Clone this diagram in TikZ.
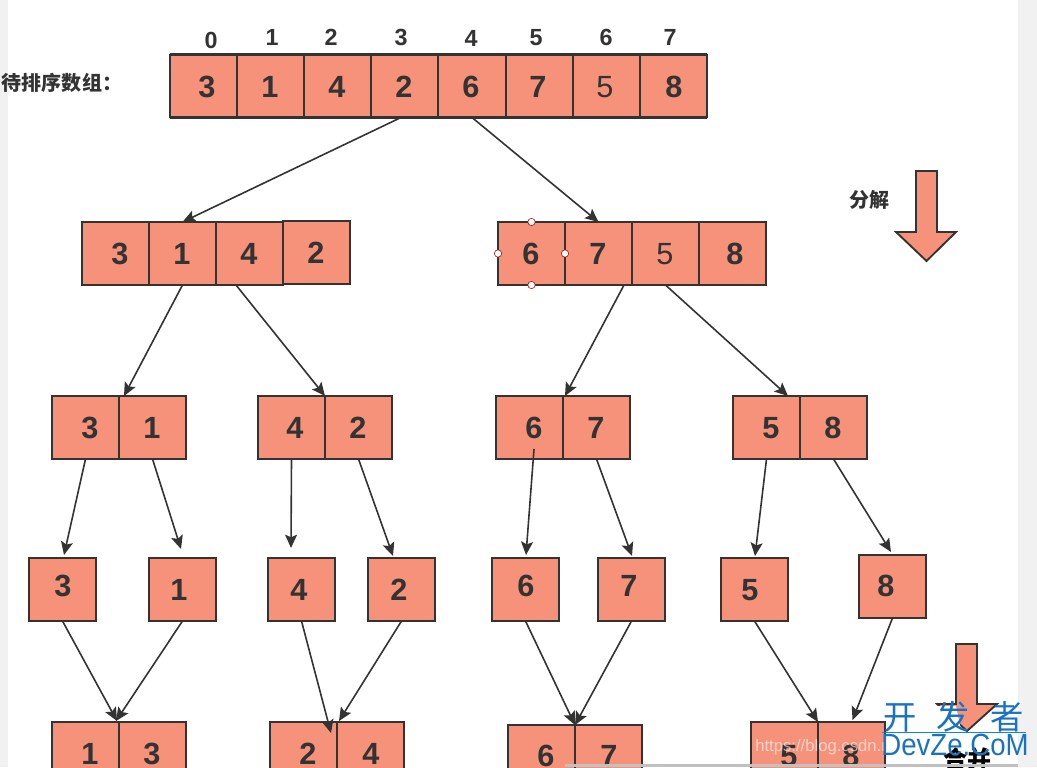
\documentclass[tikz,border=0pt]{standalone}
\usepackage{fontspec}
\setmainfont{Liberation Sans}
\newfontfamily\cjk{Noto Sans CJK SC}
\usepackage{tikz}
\usetikzlibrary{arrows.meta,calc}
\definecolor{cellfill}{HTML}{F6917A}
\definecolor{inkgray}{HTML}{333333}
\definecolor{sidegray}{HTML}{F1F1F1}
\definecolor{markblue}{HTML}{1A72C0}
\tikzset{
  cell/.style={draw=inkgray,fill=cellfill,line width=1.4pt,minimum width=50.25pt,minimum height=47.25pt,inner sep=0pt,outer sep=0pt},
  digit/.style={text=inkgray,font=\fontsize{23}{23}\selectfont\bfseries,inner sep=0pt},
  thindigit/.style={text=inkgray,font=\fontsize{23}{23}\selectfont,inner sep=0pt},
  index/.style={text=inkgray,font=\fontsize{17.5}{17.5}\selectfont\bfseries,inner sep=0pt},
  caption/.style={text=inkgray,font=\cjk\fontsize{15}{15}\selectfont\bfseries,inner sep=0pt},
  link/.style={draw=inkgray,line width=1.2pt,-{Stealth[length=10pt,width=9pt,inset=2pt]}},
  handle/.style={circle,draw=red!60!black,fill=white,line width=.4pt,minimum size=5.5pt,inner sep=0pt},
  bigarrow/.style={draw=inkgray,fill=cellfill,line width=1.4pt,line join=miter},
}
\begin{document}
\begin{tikzpicture}[x=0.75pt,y=0.75pt,yscale=-1,xscale=1]
    \useasboundingbox (0,0) rectangle (1037,767);
    \clip (0,0) rectangle (1037,767);

    % page strips
    \fill[sidegray] (0,0) rectangle (8,767);
    \fill[sidegray] (1018,0) rectangle (1037,767);

    % top row
    \node[cell] (a0) at (203.6,86) {};
    \node[cell] (a1) at (270.7,86) {};
    \node[cell] (a2) at (337.8,86) {};
    \node[cell] (a3) at (404.9,86) {};
    \node[cell] (a4) at (472,86) {};
    \node[cell] (a5) at (539.1,86) {};
    \node[cell] (a6) at (606.2,86) {};
    \node[cell] (a7) at (673.3,86) {};
    \draw[inkgray,line width=2.2pt] (a0.north west) -- (a7.north east);
    \draw[inkgray,line width=2.2pt] (a0.south west) -- (a7.south east);

    % second row
    \node[cell] (b0) at (115.5,253.5) {};
    \node[cell] (b1) at (182.5,253.5) {};
    \node[cell] (b2) at (249.5,253.5) {};
    \node[cell] (b3) at (316.5,252.5) {};
    \node[cell] (b4) at (531.5,253.5) {};
    \node[cell] (b5) at (598.5,253.5) {};
    \node[cell] (b6) at (665.5,253.5) {};
    \node[cell] (b7) at (732.5,253.5) {};

    % third row
    \node[cell] (c0) at (85.5,427.5) {};
    \node[cell] (c1) at (152.5,427.5) {};
    \node[cell] (c2) at (291.5,427.5) {};
    \node[cell] (c3) at (358.5,427.5) {};
    \node[cell] (c4) at (529.5,427.5) {};
    \node[cell] (c5) at (596.5,427.5) {};
    \node[cell] (c6) at (766.5,427.5) {};
    \node[cell] (c7) at (833.5,427.5) {};

    % fourth row
    \node[cell] (d0) at (62.5,589.5) {};
    \node[cell] (d1) at (182.5,589.5) {};
    \node[cell] (d2) at (301.5,589.5) {};
    \node[cell] (d3) at (401.5,589.5) {};
    \node[cell] (d4) at (525.5,589.5) {};
    \node[cell] (d5) at (631.5,589.5) {};
    \node[cell] (d6) at (754.5,589.5) {};
    \node[cell] (d7) at (892.5,586.5) {};

    % last row, cut by the page
    \node[cell] (e0) at (85.5,753.5) {};
    \node[cell] (e1) at (152.5,753.5) {};
    \node[cell] (e2) at (303.5,753.5) {};
    \node[cell] (e3) at (370.5,753.5) {};
    \node[cell] (e4) at (541.5,756.5) {};
    \node[cell] (e5) at (608.5,756.5) {};
    \node[cell] (e6) at (784.5,753.5) {};
    \node[cell] (e7) at (851.5,753.5) {};

    % connectors
    \draw[link] ($(a3.south)+(-3.9,0)$) -- (b1.north);
    \draw[link] (a4.south) -- (b5.north);
    \draw[link] (b1.south) -- ($(c0.north east)+(5,0)$);
    \draw[link] ($(b2.south)+(-13.5,0)$) -- (c2.north east);
    \draw[link] ($(b5.south)+(25.5,0)$) -- ($(c4.north east)+(2,0)$);
    \draw[link] (b6.south) -- ($(c6.north)+(21.5,0)$);
    \draw[link] (c0.south) -- ($(d0.north)+(1.5,-3)$);
    \draw[link] (c1.south) -- ($(d1.north)+(-1.5,-9)$);
    \draw[link] (c2.south) -- ($(d2.north)+(-10.5,-10)$);
    \draw[link] (c3.south) -- ($(d3.north)+(-8.5,-2)$);
    \draw[link] ($(c4.south)+(4.5,-10)$) -- ($(d4.north)+(0.5,-3)$);
    \draw[link] (c5.south) -- ($(d5.north)+(0.5,-2)$);
    \draw[link] (c6.south) -- ($(d6.north)+(0.5,-2)$);
    \draw[link] (c7.south) -- ($(d7.north)+(-1.5,-3)$);
    \draw[link] (d0.south) -- ($(e0.north east)+(-2,-1)$);
    \draw[link] (d1.south) -- ($(e0.north east)+(-3,-1)$);
    \draw[link] (d2.south) -- ($(e2.north east)+(-6,11)$);
    \draw[link] (d3.south) -- ($(e2.north east)+(2,-1)$);
    \draw[link] (d4.south) -- (e4.north east);
    \draw[link] (d5.south) -- (e4.north east);
    \draw[link] (d6.south) -- (e6.north east);
    \draw[link] (d7.south) -- ($(e7.north)+(1,-2)$);

    % big arrows
    \draw[bigarrow] (916,171) -- (937,171) -- (937,232) -- (956,232) -- (926.5,261) -- (896,232) -- (916,232) -- cycle;
    \draw[bigarrow] (956,644) -- (977,644) -- (977,704) -- (997,704) -- (967,731) -- (937,704) -- (956,704) -- cycle;
    \fill[white] (935,706) -- (956,706) -- (962,735) -- (935,735) -- cycle;

    % selection handles
    \node[handle] (h0) at (b4.north) {};
    \node[handle] (h1) at (b4.west) {};
    \node[handle] (h2) at (b4.east) {};
    \node[handle] (h3) at (b4.south) {};

    % Text Node
    \node[index] (i0) at (211,40) {0};
    \node[index] (i1) at (272,37) {1};
    \node[index] (i2) at (331,37) {2};
    \node[index] (i3) at (401,37) {3};
    \node[index] (i4) at (471,38) {4};
    \node[index] (i5) at (536,38) {5};
    \node[index] (i6) at (606,37) {6};
    \node[index] (i7) at (670,37) {7};
    \node[caption] (title) at (62,83) {待排序数组：};
    \node[caption] (split) at (869,200) {分解};
    \node[digit] (ta0) at (207,87) {3};
    \node[digit] (ta1) at (270,87) {1};
    \node[digit] (ta2) at (337,87) {4};
    \node[digit] (ta3) at (404,87) {2};
    \node[digit] (ta4) at (471,87) {6};
    \node[digit] (ta5) at (538,87) {7};
    \node[thindigit] (ta6) at (605,87) {5};
    \node[digit] (ta7) at (674,87) {8};
    \node[digit] (tb0) at (120,254) {3};
    \node[digit] (tb1) at (182,254) {1};
    \node[digit] (tb2) at (249,254) {4};
    \node[digit] (tb3) at (316,253) {2};
    \node[digit] (tb4) at (531,254) {6};
    \node[digit] (tb5) at (598,254) {7};
    \node[thindigit] (tb6) at (665,254) {5};
    \node[digit] (tb7) at (735,254) {8};
    \node[digit] (tc0) at (90,428) {3};
    \node[digit] (tc1) at (152,428) {1};
    \node[digit] (tc2) at (295,428) {4};
    \node[digit] (tc3) at (358,428) {2};
    \node[digit] (tc4) at (534,428) {6};
    \node[digit] (tc5) at (596,428) {7};
    \node[digit] (tc6) at (771,428) {5};
    \node[digit] (tc7) at (833,428) {8};
    \node[digit] (td0) at (63,586) {3};
    \node[digit] (td1) at (179,590) {1};
    \node[digit] (td2) at (299,590) {4};
    \node[digit] (td3) at (399,590) {2};
    \node[digit] (td4) at (526,586) {6};
    \node[digit] (td5) at (629,586) {7};
    \node[digit] (td6) at (750,590) {5};
    \node[digit] (td7) at (886,586) {8};
    \node[digit] (te0) at (90,754) {1};
    \node[digit] (te1) at (152,754) {3};
    \node[digit] (te2) at (308,754) {2};
    \node[digit] (te3) at (371,754) {4};
    \node[digit] (te4) at (546,756) {6};
    \node[digit] (te5) at (609,756) {7};
    \node[digit] (te6) at (789,756) {5};
    \node[digit] (te7) at (851,756) {8};
    \node[caption,text=black,font=\cjk\fontsize{18}{18}\selectfont\bfseries] (merge) at (967,759) {合并};

    % bottom strip
    \fill[sidegray!80!black] (565,764) rectangle (1018,767);

    % watermarks
    \node[text=white,text opacity=.6,font=\fontsize{12.5}{12.5}\selectfont,inner sep=0pt,anchor=west] (csdn) at (755,747) {https://blog.csdn.net};
    \node[text=markblue,font=\cjk\fontsize{25}{25}\selectfont,inner sep=0pt] (mark) at (953.5,717) {开\hspace{15pt}发\hspace{15pt}者};
    \draw[cyan!70!blue,line width=.6pt] (882,732) -- (1026,732);
    \node[text=markblue,font=\fontsize{23}{23}\selectfont,inner sep=0pt] (site) at (955,745) {\scalebox{.9}[1]{DevZe.CoM}};
\end{tikzpicture}
\end{document}
